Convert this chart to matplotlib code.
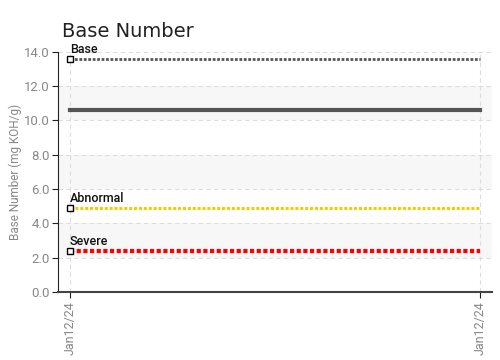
import matplotlib
matplotlib.use("Agg")
import matplotlib.pyplot as plt

dates = ["Jan12/24", "Jan12/24"]
base_number = [10.6, 10.6]
base_limit = 13.6
abnormal_limit = 4.9
severe_limit = 2.4
y_ticks = [0, 2, 4, 6, 8, 10, 12, 14]

narrow = ["Roboto", "DejaVu Sans"]

fig = plt.figure(figsize=(5, 3.6), dpi=100)
ax = fig.add_axes([0.116, 0.189, 0.868, 0.667])
x = list(range(len(dates)))

for lo in (2, 6, 10):
    ax.axhspan(lo, lo + 2, color="#f7f7f7", zorder=0, lw=0)
for t in y_ticks:
    ax.axhline(t, color="#dddddd", ls=(0, (4, 3)), lw=0.8, zorder=1)
for xi in x:
    ax.axvline(xi, color="#dddddd", ls=(0, (4, 3)), lw=0.8, zorder=1)

ax.plot(x, [base_limit] * len(x), color="#555555", lw=2, ls=(0, (1, 0.6)), zorder=3)
ax.plot(x, base_number, color="#555555", lw=3, zorder=4)
ax.plot(x, [abnormal_limit] * len(x), color="#f5cc00", lw=2.2, ls=(0, (1, 0.6)), zorder=3)
ax.plot(x, [severe_limit] * len(x), color="#ff0000", lw=3, ls=(0, (1, 0.6)), zorder=3)

for val, lab in ((base_limit, "Base"), (abnormal_limit, "Abnormal"), (severe_limit, "Severe")):
    ax.plot([x[0]], [val], marker="s", ms=5, mfc="white", mec="black", mew=1, zorder=5)
    ax.text(x[0], val + 0.18, lab, fontsize=9, family=narrow, weight="medium", color="#111111",
            va="bottom", ha="left", zorder=6)

ax.set_xlim(-0.029, 1.029)
ax.set_ylim(0, 14)
ax.set_yticks(y_ticks)
ax.set_yticklabels([f"{t:.1f}" for t in y_ticks], family=narrow, fontsize=9.5, color="#888888")
ax.set_xticks(x)
ax.set_xticklabels(dates, rotation=90, family=narrow, fontsize=9, color="#888888")
ax.set_ylabel("Base Number (mg KOH/g)", family=narrow, fontsize=8.5, color="#888888", labelpad=1)
for s in ("top", "right"):
    ax.spines[s].set_visible(False)
ax.spines["left"].set_color("#222222")
ax.spines["bottom"].set_color("#444444")
ax.spines["bottom"].set_linewidth(1.5)
ax.tick_params(axis="y", length=4, color="#222222", pad=2)
ax.tick_params(axis="x", length=4, color="#222222", pad=3)

fig.text(0.124, 0.897, "Base Number", fontsize=14, color="#222222", ha="left", va="baseline")
fig.savefig("out.png", dpi=100)
